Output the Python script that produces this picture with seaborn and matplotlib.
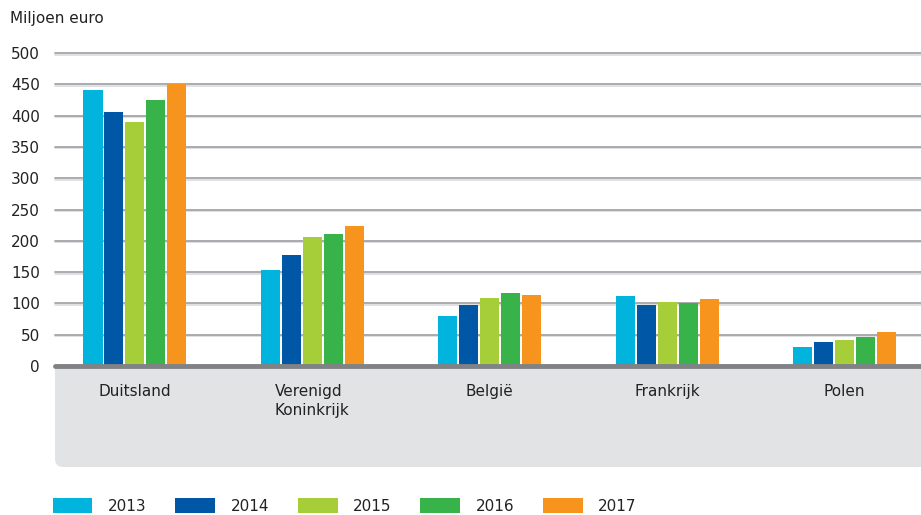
import matplotlib
matplotlib.use("Agg")
import matplotlib.pyplot as plt
from matplotlib.patches import FancyBboxPatch, Rectangle, Patch
from matplotlib import transforms
import seaborn as sns
import pandas as pd

countries = ["Duitsland", "Verenigd\nKoninkrijk", "België", "Frankrijk", "Polen"]
years = ["2013", "2014", "2015", "2016", "2017"]
values_2013 = [441, 153, 80, 112, 31]
values_2014 = [406, 177, 97, 97, 39]
values_2015 = [390, 206, 109, 102, 41]
values_2016 = [425, 211, 117, 100, 46]
values_2017 = [450, 224, 113, 107, 55]
y_ticks = [0, 50, 100, 150, 200, 250, 300, 350, 400, 450, 500]

colors = ["#00b4de", "#0057a6", "#a6ce39", "#37b34a", "#f7941d"]

series = [values_2013, values_2014, values_2015, values_2016, values_2017]
df = pd.DataFrame(
    [(c, y, v) for y, vals in zip(years, series) for c, v in zip(countries, vals)],
    columns=["land", "jaar", "waarde"],
)

sns.set_theme(style="white")
plt.rcParams["font.family"] = ["DejaVu Sans"]

fig = plt.figure(figsize=(9.21, 5.15), dpi=100)
ax = fig.add_axes([55 / 921, 1 - 366 / 515, 1 - 55 / 921, (366 - 50) / 515])
ax.set_zorder(2)
ax.patch.set_alpha(0)

# grey band under the category axis, rounded at the lower-left corner
band = FancyBboxPatch((0.55, 0.48), 9.0, 1.0,
                      boxstyle="round,pad=0,rounding_size=0.08",
                      transform=fig.dpi_scale_trans, facecolor="#e2e3e5",
                      edgecolor="none", zorder=0)
fig.patches.append(band)
fig.patches.append(Rectangle((0.55, 1.1), 9.0, 0.4, transform=fig.dpi_scale_trans,
                             facecolor="#e2e3e5", edgecolor="none", zorder=0))

# horizontal gridlines: a grey line with a faint lighter line just beneath
ytrans = ax.get_yaxis_transform()
shadow = ytrans + transforms.ScaledTranslation(0, -1.5 / 100, fig.dpi_scale_trans)
for t in y_ticks[1:]:
    ax.plot([0, 1], [t, t], color="#d9dadc", lw=1.2, zorder=0, transform=shadow,
            clip_on=False)
    ax.plot([0, 1], [t, t], color="#a3a5a8", lw=1.3, zorder=0.5, transform=ytrans,
            clip_on=False)

sns.barplot(data=df, x="land", y="waarde", hue="jaar", palette=colors,
            width=0.59, gap=0.09, saturation=1, ax=ax, legend=False, zorder=2,
            linewidth=0, edgecolor="none")

ax.plot([0, 1], [0, 0], color="#808285", lw=3.5, zorder=3, transform=ytrans,
        clip_on=False)

ax.set_xlim(-0.45, 4.43)
ax.set_ylim(0, 504.8)
ax.set_yticks(y_ticks)
ax.set_yticklabels([str(t) for t in y_ticks], fontsize=11, color="#222222")
ax.tick_params(axis="y", length=0, pad=11)
ax.tick_params(axis="x", length=0, pad=13, labelsize=11, labelcolor="#222222")
for lbl in ax.get_xticklabels():
    lbl.set_multialignment("left")
    lbl.set_linespacing(1.35)
ax.set_xlabel("")
ax.set_ylabel("")
for s in ax.spines.values():
    s.set_visible(False)

fig.text(10 / 921, 1 - 18 / 515, "Miljoen euro", fontsize=11, color="#222222",
         ha="left", va="center")

handles = [Patch(facecolor=c, edgecolor="none") for c in colors]
fig.legend(handles, years, loc="center left", bbox_to_anchor=(39 / 921, 1 - 506 / 515),
           ncol=5, frameon=False, fontsize=11, handlelength=2.6, handleheight=1.1,
           handletextpad=1.0, columnspacing=1.9, labelcolor="#222222")

fig.savefig("out.png", dpi=100)
